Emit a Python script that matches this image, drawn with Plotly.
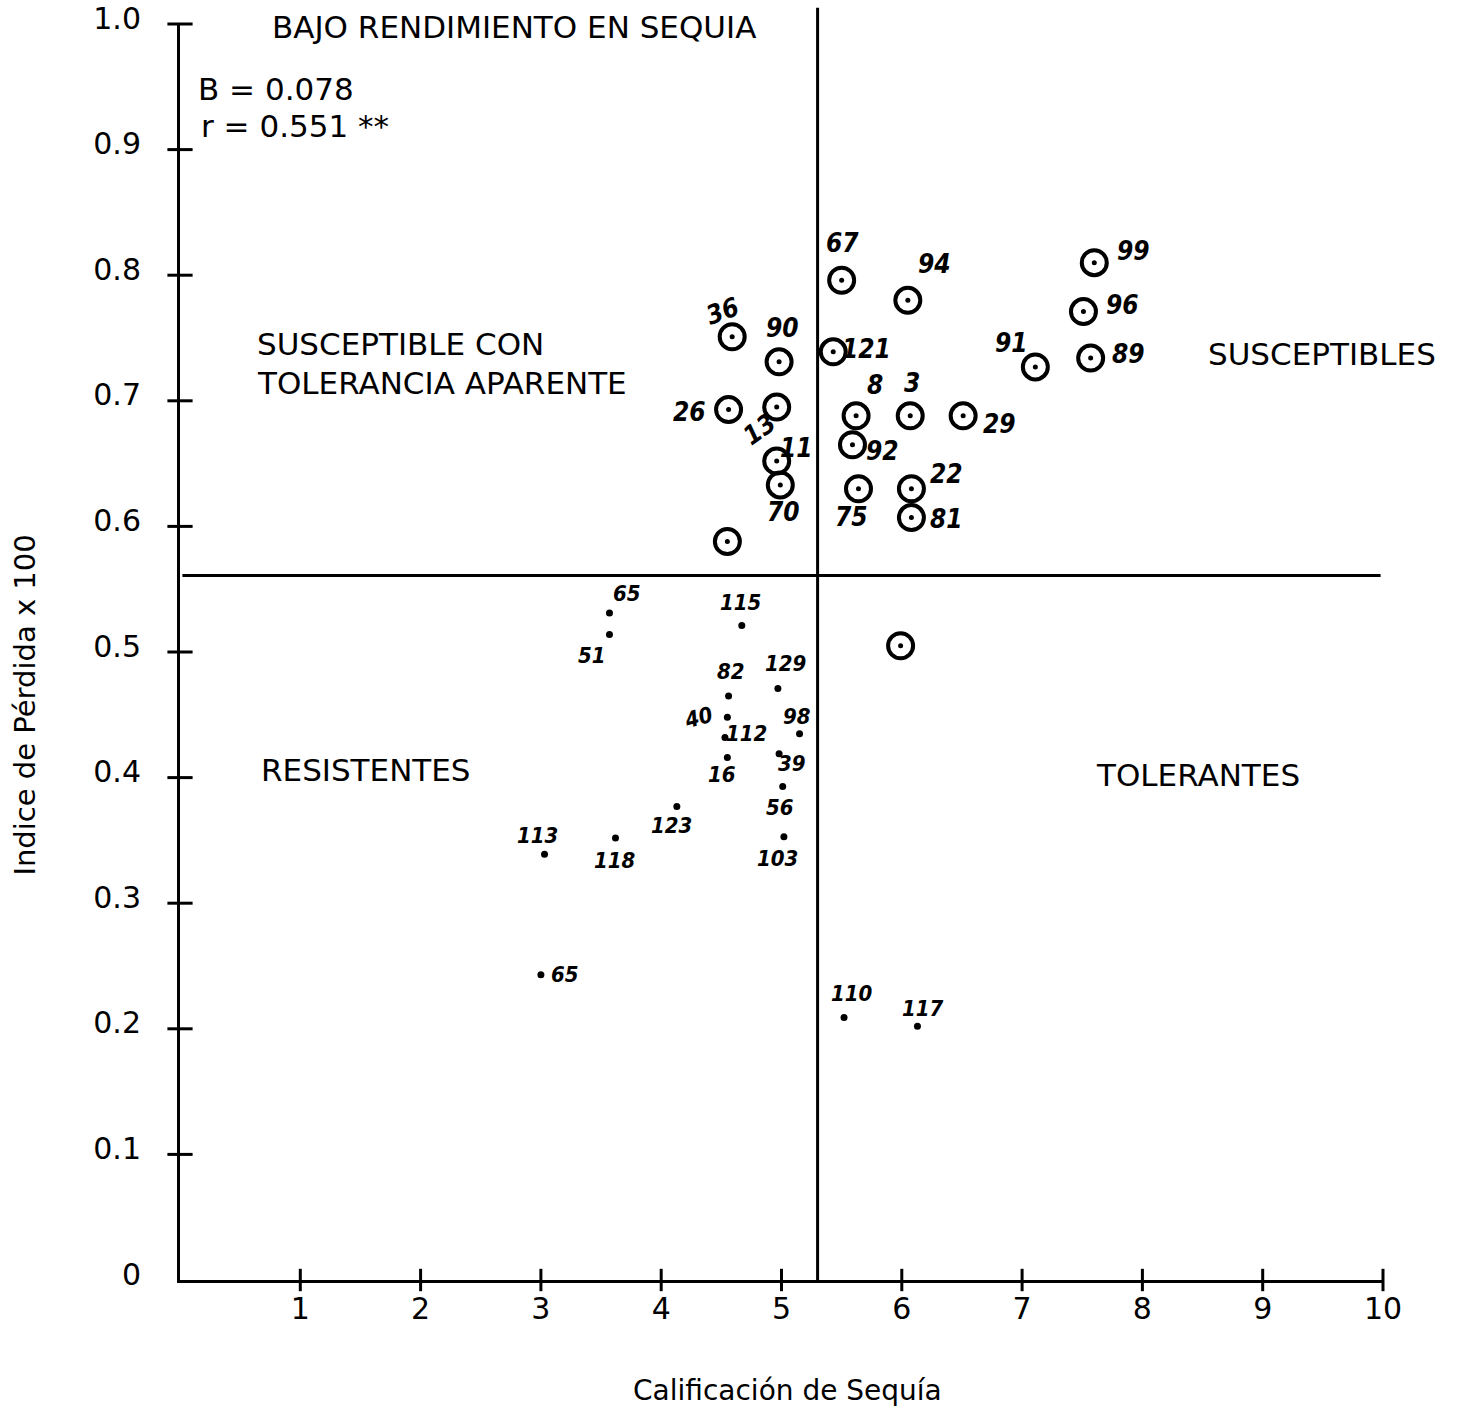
import plotly.graph_objects as go

# Lines scored as drought-susceptible (circled) -- drought score vs loss index
circ_x = [5.50, 6.05, 7.60, 7.51, 7.57, 7.11, 4.59, 4.98, 5.43, 4.56, 4.96,
          5.62, 6.07, 6.51, 5.59, 4.96, 4.99, 5.64, 6.08, 6.08, 4.55, 5.99]
circ_y = [0.796, 0.780, 0.810, 0.771, 0.734, 0.727, 0.751, 0.731, 0.739, 0.693, 0.695,
          0.688, 0.688, 0.688, 0.665, 0.652, 0.633, 0.630, 0.630, 0.607, 0.588, 0.505]
circ_lab = ["67", "94", "99", "96", "89", "91", "36", "90", "121", "26", "13",
            "8", "3", "29", "92", "11", "70", "75", "22", "81", "", ""]

# Remaining lines (plain dots)
dot_x = [3.57, 3.57, 4.67, 4.56, 4.55, 4.53, 4.55, 4.97, 5.15, 4.98, 5.01,
         5.02, 4.13, 3.62, 3.03, 3.00, 5.52, 6.13]
dot_y = [0.531, 0.514, 0.521, 0.465, 0.448, 0.432, 0.416, 0.471, 0.435, 0.419, 0.393,
         0.353, 0.377, 0.352, 0.339, 0.243, 0.209, 0.202]
dot_lab = ["65", "51", "115", "82", "40", "112", "16", "129", "98", "39", "56",
           "103", "123", "118", "113", "65", "110", "117"]

# Axis ticks
x_ticks = [1, 2, 3, 4, 5, 6, 7, 8, 9, 10]
y_ticks = [0, 0.1, 0.2, 0.3, 0.4, 0.5, 0.6, 0.7, 0.8, 0.9, 1.0]
y_ticktext = ["0", "0.1", "0.2", "0.3", "0.4", "0.5", "0.6", "0.7", "0.8", "0.9", "1.0"]

# Quadrant split points
x_split = 5.30
y_split = 0.561

# Pixel offsets (dx, dy, angle) for the hand-written line numbers
circ_off = [(1, 37, 0), (27, 36, 0), (39, 12, 0), (39, 7, 0), (38, 4, 0), (-24, 24, 0),
            (-10, 26, -20), (3, 34, 0), (33, 3, 0), (-39, -2, 0), (-17, -22, -35),
            (19, 31, 0), (2, 33, 0), (36, -8, 0), (30, -6, 0), (20, 13, 0), (3, -27, 0),
            (-7, -28, 0), (35, 15, 0), (35, -1, 0), (0, 0, 0), (0, 0, 0)]
dot_off = [(18, 20, 0), (-17, -21, 0), (-1, 23, 0), (2, 24, 0), (-29, 0, -15), (22, 4, 0),
           (-5, -17, 0), (8, 25, 0), (-3, 17, 0), (13, -10, 0), (-3, -21, 0), (-6, -22, 0),
           (-5, -19, 0), (0, -23, 0), (-7, 19, 0), (24, 0, 0), (8, 24, 0), (6, 18, 0)]

FONT = "DejaVu Sans, sans-serif"
HAND = dict(family="Liberation Sans Narrow, DejaVu Sans Condensed, sans-serif", size=26,
            color="black", style="italic", weight="bold")

fig = go.Figure()

# circled lines: open ring plus centre dot
fig.add_trace(go.Scatter(
    x=circ_x, y=circ_y, mode="markers", cliponaxis=False, hoverinfo="skip",
    marker=dict(symbol="circle-open", size=25, color="black", line=dict(width=4, color="black")),
))
fig.add_trace(go.Scatter(
    x=circ_x, y=circ_y, mode="markers", cliponaxis=False,
    marker=dict(symbol="circle", size=5, color="black"),
))
fig.add_trace(go.Scatter(
    x=dot_x, y=dot_y, mode="markers", cliponaxis=False,
    marker=dict(symbol="circle", size=7, color="black"),
))

# tick marks that cross the axis lines
fig.add_trace(go.Scatter(
    x=[0] * (len(y_ticks) - 1), y=y_ticks[1:], mode="markers", cliponaxis=False, hoverinfo="skip",
    marker=dict(symbol="line-ew-open", size=18, color="black", line=dict(width=3, color="black")),
))
fig.add_trace(go.Scatter(
    x=x_ticks, y=[0] * len(x_ticks), mode="markers", cliponaxis=False, hoverinfo="skip",
    marker=dict(symbol="line-ns-open", size=16, color="black", line=dict(width=3, color="black")),
))

# quadrant dividers
fig.add_shape(type="line", xref="x", yref="y", x0=0.02, x1=9.98, y0=y_split, y1=y_split,
              line=dict(color="black", width=3))
fig.add_shape(type="line", xref="x", yref="paper", x0=x_split, x1=x_split, y0=0, y1=1.013,
              line=dict(color="black", width=3))

annotations = []
for x, y, t, (dx, dy, ang) in zip(circ_x, circ_y, circ_lab, circ_off):
    if t:
        annotations.append(dict(x=x, y=y, text=t, showarrow=False, xshift=dx, yshift=dy,
                                textangle=ang, font=HAND))
for x, y, t, (dx, dy, ang) in zip(dot_x, dot_y, dot_lab, dot_off):
    annotations.append(dict(x=x, y=y, text=t, showarrow=False, xshift=dx, yshift=dy,
                            textangle=ang, font=dict(HAND, size=22)))

big = dict(family=FONT, size=31, color="black")
quad_text = [
    (0.75, 0.998, "BAJO RENDIMIENTO EN SEQUIA"),
    (0.62, 0.745, "SUSCEPTIBLE CON"),
    (0.62, 0.714, "TOLERANCIA APARENTE"),
    (8.53, 0.737, "SUSCEPTIBLES"),
    (0.66, 0.406, "RESISTENTES"),
    (7.60, 0.402, "TOLERANTES"),
    (0.13, 0.948, "B = 0.078"),
    (0.16, 0.919, "r = 0.551 **"),
]
for x, y, t in quad_text:
    annotations.append(dict(x=x, y=y, text=t, showarrow=False, xanchor="left",
                            yanchor="middle", font=big))

# axis titles
annotations.append(dict(xref="paper", yref="paper", x=-0.129, y=0.458, textangle=-90,
                        xanchor="center", yanchor="middle",
                        text="Indice de Pérdida x 100", showarrow=False,
                        font=dict(family=FONT, size=29, color="black")))
annotations.append(dict(xref="paper", yref="paper", x=0.505, y=-0.0876,
                        xanchor="center", yanchor="middle",
                        text="Calificación de Sequía", showarrow=False,
                        font=dict(family=FONT, size=28, color="black")))

fig.update_layout(
    width=1463, height=1408,
    margin=dict(l=180, r=80, t=24, b=128, autoexpand=False),
    paper_bgcolor="white", plot_bgcolor="white",
    showlegend=False,
    annotations=annotations,
    xaxis=dict(range=[0, 10], tickvals=x_ticks, ticktext=[str(v) for v in x_ticks],
               showgrid=False, zeroline=False, showline=True, linewidth=3, linecolor="black",
               ticks="", ticklabelstandoff=0, automargin=False,
               tickfont=dict(family=FONT, size=30, color="black")),
    yaxis=dict(range=[0, 1.0], tickvals=y_ticks, ticktext=y_ticktext,
               showgrid=False, zeroline=False, showline=True, linewidth=3, linecolor="black",
               ticks="", ticklabelstandoff=30, ticklabelshift=-6, automargin=False,
               tickfont=dict(family=FONT, size=30, color="black")),
)

fig.write_html("out.html")
